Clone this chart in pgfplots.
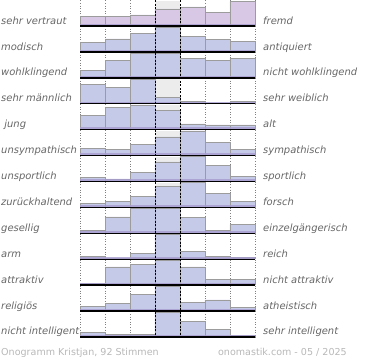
\documentclass[border=0pt]{standalone}
\usepackage{pgfplots}
\pgfplotsset{compat=1.18}
\usepackage{fontspec}
\setmainfont{DejaVu Sans}
\definecolor{lbl}{HTML}{666666}
\definecolor{foot}{HTML}{B8B8B8}
\definecolor{barc}{HTML}{C4CAE7}
\definecolor{barp}{HTML}{D8C8E6}
\definecolor{band}{HTML}{A69CCE}
\definecolor{mid}{HTML}{ECECEC}
\definecolor{edge}{HTML}{9C9C9C}
\pgfplotsset{
  rowaxis/.style={scale only axis, width=175bp, height=24.3bp,
    xmin=0, xmax=7, ymin=0, ymax=100, hide axis, clip=false,
    anchor=south west},
  bg/.style={ybar interval, fill=mid, draw=none},
  bars/.style={ybar interval, fill=barc, draw=edge, line width=0.6bp},
}
\newcommand{\finish}{%
  \draw[band, line width=1.6bp, opacity=0.8] (axis cs:0,4) -- (axis cs:7,4);
  \draw[black, line width=1.3bp] (axis cs:0,-2) -- (axis cs:7,-2);}
\begin{document}
\begin{tikzpicture}
\begin{scope}[x=1bp,y=1bp]
\useasboundingbox (0,0) rectangle (370,360);
\foreach \xx in {80,105,130,205,230,255}
  \draw[gray, dotted, line width=0.6bp] (\xx,360) -- (\xx,22);
\end{scope}

% row 1
\begin{axis}[rowaxis, at={(80bp,334.7bp)}]
\addplot[bg] coordinates {(3,100)(4,100)};
\addplot[bars, fill=barp] coordinates {(0,37)(1,37)(2,44)(3,69)(4,77)(5,56)(6,100)(7,100)};
\finish
\end{axis}
% row 2
\begin{axis}[rowaxis, at={(80bp,308.8bp)}]
\addplot[bg] coordinates {(3,100)(4,100)};
\addplot[bars] coordinates {(0,38)(1,52)(2,74)(3,100)(4,62)(5,51)(6,42)(7,42)};
\finish
\end{axis}
% row 3
\begin{axis}[rowaxis, at={(80bp,282.9bp)}]
\addplot[bg] coordinates {(3,100)(4,100)};
\addplot[bars] coordinates {(0,29)(1,71)(2,100)(3,100)(4,78)(5,71)(6,79)(7,79)};
\finish
\end{axis}
% row 4
\begin{axis}[rowaxis, at={(80bp,257.0bp)}]
\addplot[bg] coordinates {(3,100)(4,100)};
\addplot[bars] coordinates {(0,79)(1,64)(2,100)(3,26)(4,9)(5,0)(6,7)(7,7)};
\finish
\end{axis}
% row 5
\begin{axis}[rowaxis, at={(80bp,231.1bp)}]
\addplot[bg] coordinates {(3,100)(4,100)};
\addplot[bars] coordinates {(0,56)(1,89)(2,100)(3,78)(4,22)(5,18)(6,18)(7,18)};
\finish
\end{axis}
% row 6
\begin{axis}[rowaxis, at={(80bp,205.2bp)}]
\addplot[bg] coordinates {(3,100)(4,100)};
\addplot[bars] coordinates {(0,29)(1,25)(2,45)(3,75)(4,100)(5,52)(6,25)(7,25)};
\finish
\end{axis}
% row 7
\begin{axis}[rowaxis, at={(80bp,179.3bp)}]
\addplot[bg] coordinates {(3,100)(4,100)};
\addplot[bars] coordinates {(0,16)(1,9)(2,36)(3,79)(4,100)(5,63)(6,18)(7,18)};
\finish
\end{axis}
% row 8
\begin{axis}[rowaxis, at={(80bp,153.4bp)}]
\addplot[bg] coordinates {(3,100)(4,100)};
\addplot[bars] coordinates {(0,16)(1,23)(2,42)(3,84)(4,100)(5,55)(6,22)(7,22)};
\finish
\end{axis}
% row 9
\begin{axis}[rowaxis, at={(80bp,127.5bp)}]
\addplot[bg] coordinates {(3,100)(4,100)};
\addplot[bars] coordinates {(0,9)(1,66)(2,100)(3,100)(4,63)(5,9)(6,34)(7,34)};
\finish
\end{axis}
% row 10
\begin{axis}[rowaxis, at={(80bp,101.6bp)}]
\addplot[bg] coordinates {(3,100)(4,100)};
\addplot[bars] coordinates {(0,11)(1,0)(2,23)(3,100)(4,30)(5,9)(6,5)(7,5)};
\finish
\end{axis}
% row 11
\begin{axis}[rowaxis, at={(80bp,75.7bp)}]
\addplot[bg] coordinates {(3,100)(4,100)};
\addplot[bars] coordinates {(0,4)(1,73)(2,84)(3,100)(4,73)(5,23)(6,23)(7,23)};
\finish
\end{axis}
% row 12
\begin{axis}[rowaxis, at={(80bp,49.8bp)}]
\addplot[bg] coordinates {(3,100)(4,100)};
\addplot[bars] coordinates {(0,18)(1,30)(2,66)(3,100)(4,34)(5,44)(6,13)(7,13)};
\finish
\end{axis}
% row 13
\begin{axis}[rowaxis, at={(80bp,23.9bp)}]
\addplot[bg] coordinates {(3,100)(4,100)};
\addplot[bars] coordinates {(0,16)(1,9)(2,9)(3,100)(4,62)(5,29)(6,4)(7,4)};
\finish
\end{axis}

\begin{scope}[x=1bp,y=1bp]
\foreach \xx in {155,180}
  \draw[black, dash pattern=on 2bp off 1.5bp, line width=0.7bp] (\xx,360) -- (\xx,22);
\begin{scope}[every node/.style={inner sep=0pt, text=lbl, font=\fontsize{10}{12}\selectfont\itshape}]
\foreach \y/\l/\r in {334.7/sehr vertraut/fremd, 308.8/modisch/antiquiert,
  282.9/wohlklingend/nicht wohlklingend, 257.0/sehr männlich/sehr weiblich,
  231.1/\ jung/alt, 205.2/unsympathisch/sympathisch, 179.3/unsportlich/sportlich,
  153.4/zurückhaltend/forsch, 127.5/gesellig/einzelgängerisch, 101.6/arm/reich,
  75.7/attraktiv/nicht attraktiv, 49.8/religiös/atheistisch,
  23.9/nicht intelligent/sehr intelligent}{
  \node[anchor=base west] at (1,\y+1.5) {\l};
  \node[anchor=base west] at (263,\y+1.5) {\r};
}
\end{scope}
\node[anchor=base west, inner sep=0pt, text=foot, font=\fontsize{9.6}{11}\selectfont] at (1,4.5) {Onogramm Kristjan, 92 Stimmen};
\node[anchor=base east, inner sep=0pt, text=foot, font=\fontsize{9.6}{11}\selectfont] at (347,4.5) {onomastik.com - 05 / 2025};
\end{scope}
\end{tikzpicture}
\end{document}
